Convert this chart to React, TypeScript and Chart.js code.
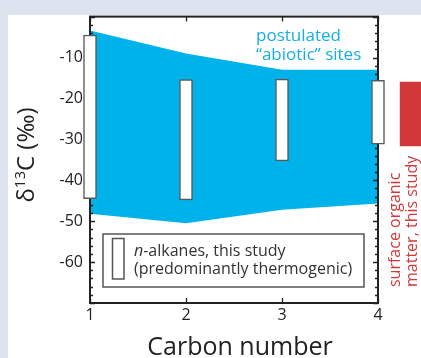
import React, { useEffect, useRef } from "react";
import { Chart, registerables } from "chart.js";

Chart.register(...registerables);

// ---- data ----
const carbonNumbers = [1, 2, 3, 4];
const alkaneLow = [-44.5, -44.8, -35.3, -31.2];
const alkaneHigh = [-4.5, -15.4, -15.3, -15.6];
const abioticUpper = [-3.4, -9.0, -13.0, -13.0];
const abioticLower = [-48.2, -50.5, -47.2, -45.7];
const surfaceX = [4.34];
const surfaceLow = [-31.6];
const surfaceHigh = [-16.0];
const yTickLabels = [-10, -20, -30, -40, -50, -60];
const xTickLabels = [1, 2, 3, 4];
const yRange = [-70, 0];
const xRange = [1, 4];

const FONT = "'Open Sans', 'DejaVu Sans', sans-serif";
const BLUE = "#00b2ea";
const RED = "#d1383a";

export default function App() {
  const ref = useRef<HTMLCanvasElement | null>(null);

  useEffect(() => {
    const canvas = ref.current;
    if (!canvas) return;

    const background = {
      id: "bg",
      beforeDraw(chart: any) {
        const ctx = chart.ctx;
        ctx.save();
        ctx.fillStyle = "#dde3ef";
        ctx.fillRect(0, 0, chart.width, chart.height);
        ctx.fillStyle = "#ffffff";
        ctx.fillRect(8, 15, chart.width - 8, chart.height - 15);
        ctx.restore();
      },
    };

    const frame = {
      id: "frame",
      afterDatasetDraw(chart: any, args: any) {
        if (chart.data.datasets[args.index].label !== "upper") return;
        const ctx = chart.ctx;
        const { left, right, top, bottom } = chart.chartArea;
        const ys = chart.scales.y;
        const xs = chart.scales.x;
        ctx.save();
        ctx.strokeStyle = "#222";
        ctx.lineWidth = 1.3;
        ctx.beginPath();
        for (let v = yRange[0]; v <= yRange[1]; v += 2) {
          const p = Math.round(ys.getPixelForValue(v)) + 0.5;
          const len = v % 10 === 0 ? 5 : 3;
          ctx.moveTo(left, p);
          ctx.lineTo(left + len, p);
          ctx.moveTo(right, p);
          ctx.lineTo(right - len, p);
        }
        for (const v of xTickLabels) {
          const p = Math.round(xs.getPixelForValue(v)) + 0.5;
          ctx.moveTo(p, top);
          ctx.lineTo(p, top + 5);
          ctx.moveTo(p, bottom);
          ctx.lineTo(p, bottom - 5);
        }
        ctx.stroke();
        ctx.lineWidth = 2;
        ctx.strokeRect(left, top, right - left, bottom - top);
        ctx.restore();
      },
    };

    const annotations = {
      id: "annotations",
      afterDraw(chart: any) {
        const ctx = chart.ctx;
        ctx.save();
        // blue label
        ctx.fillStyle = "#14aee6";
        ctx.font = `17px ${FONT}`;
        ctx.textBaseline = "alphabetic";
        ctx.textAlign = "left";
        ctx.fillText("postulated", 256, 41);
        ctx.fillText("\u201Cabiotic\u201D sites", 256, 60);

        // legend box
        ctx.fillStyle = "#ffffff";
        ctx.fillRect(103, 234, 261, 53);
        ctx.strokeStyle = "#555";
        ctx.lineWidth = 1.5;
        ctx.strokeRect(103, 234, 261, 53);
        ctx.strokeRect(112.5, 238.5, 11.5, 40.5);
        ctx.fillStyle = "#333";
        ctx.font = `italic 16px ${FONT}`;
        ctx.fillText("n", 134, 256);
        const nW = ctx.measureText("n").width;
        ctx.font = `16px ${FONT}`;
        ctx.fillText("-alkanes, this study", 134 + nW, 256);
        ctx.fillText("(predominantly thermogenic)", 134, 274);

        // red rotated label
        ctx.fillStyle = RED;
        ctx.font = `16px ${FONT}`;
        ctx.save();
        ctx.translate(400, 287);
        ctx.rotate(-Math.PI / 2);
        ctx.fillText("surface organic", 0, 0);
        ctx.fillText("matter, this study", 0, 17);
        ctx.restore();

        // x title
        ctx.fillStyle = "#222";
        ctx.font = `25px ${FONT}`;
        ctx.textAlign = "center";
        ctx.fillText("Carbon number", 240, 355);

        // y title with superscript
        ctx.textAlign = "left";
        ctx.save();
        ctx.translate(34, 155);
        ctx.rotate(-Math.PI / 2);
        const big = `24px ${FONT}`;
        const small = `15px ${FONT}`;
        ctx.font = big;
        const w1 = ctx.measureText("\u03B4").width;
        const w3 = ctx.measureText("C (\u2030)").width;
        ctx.font = small;
        const w2 = ctx.measureText("13").width;
        let x0 = -(w1 + w2 + w3) / 2;
        ctx.font = big;
        ctx.fillText("\u03B4", x0, 0);
        x0 += w1;
        ctx.font = small;
        ctx.fillText("13", x0, -9);
        x0 += w2;
        ctx.font = big;
        ctx.fillText("C (\u2030)", x0, 0);
        ctx.restore();

        ctx.restore();
      },
    };

    const chart = new Chart(canvas, {
      type: "bar",
      data: {
        datasets: [
          {
            type: "line",
            label: "lower",
            data: carbonNumbers.map((x, i) => ({ x, y: abioticLower[i] })),
            borderWidth: 0,
            pointRadius: 0,
            fill: false,
            order: 3,
          } as any,
          {
            type: "line",
            label: "upper",
            data: carbonNumbers.map((x, i) => ({ x, y: abioticUpper[i] })),
            borderWidth: 0,
            borderColor: BLUE,
            backgroundColor: BLUE,
            pointRadius: 0,
            fill: "-1",
            order: 2,
          } as any,
          {
            type: "bar",
            label: "n-alkanes",
            data: carbonNumbers.map((x, i) => ({ x, y: [alkaneLow[i], alkaneHigh[i]] })),
            backgroundColor: "#ffffff",
            borderColor: "#5a5a5a",
            borderWidth: 1.5,
            borderSkipped: false,
            barThickness: 13,
            grouped: false,
            clip: false,
            order: 1,
          } as any,
          {
            type: "bar",
            label: "surface",
            data: surfaceX.map((x, i) => ({ x, y: [surfaceLow[i], surfaceHigh[i]] })),
            backgroundColor: RED,
            borderWidth: 0,
            barThickness: 21,
            grouped: false,
            clip: false,
            order: 1,
          } as any,
        ],
      },
      options: {
        animation: false,
        responsive: false,
        devicePixelRatio: 1,
        layout: { padding: { left: 8, top: 15, right: 43, bottom: 0 } },
        plugins: { legend: { display: false }, tooltip: { enabled: false } },
        scales: {
          x: {
            type: "linear",
            min: xRange[0],
            max: xRange[1],
            offset: false,
            grid: { display: false, drawTicks: false },
            border: { display: false },
            afterBuildTicks: (s: any) => {
              s.ticks = xTickLabels.map((v) => ({ value: v }));
            },
            afterFit: (s: any) => {
              s.height = 55;
            },
            ticks: {
              padding: 3,
              color: "#222",
              font: { family: FONT, size: 16 },
              callback: (v: any) => String(v),
            },
          },
          y: {
            type: "linear",
            min: yRange[0],
            max: yRange[1],
            grid: { display: false, drawTicks: false },
            border: { display: false },
            afterBuildTicks: (s: any) => {
              s.ticks = yTickLabels.map((v) => ({ value: v }));
            },
            afterFit: (s: any) => {
              s.width = 82;
            },
            ticks: {
              padding: 7,
              color: "#222",
              font: { family: FONT, size: 16 },
              callback: (v: any) => String(v),
            },
          },
        },
      } as any,
      plugins: [background, frame, annotations],
    });

    return () => chart.destroy();
  }, []);

  return (
    <div style={{ position: "fixed", left: 0, top: 0, width: 421, height: 358 }}>
      <canvas ref={ref} width={421} height={358} style={{ width: 421, height: 358, display: "block" }} />
    </div>
  );
}
